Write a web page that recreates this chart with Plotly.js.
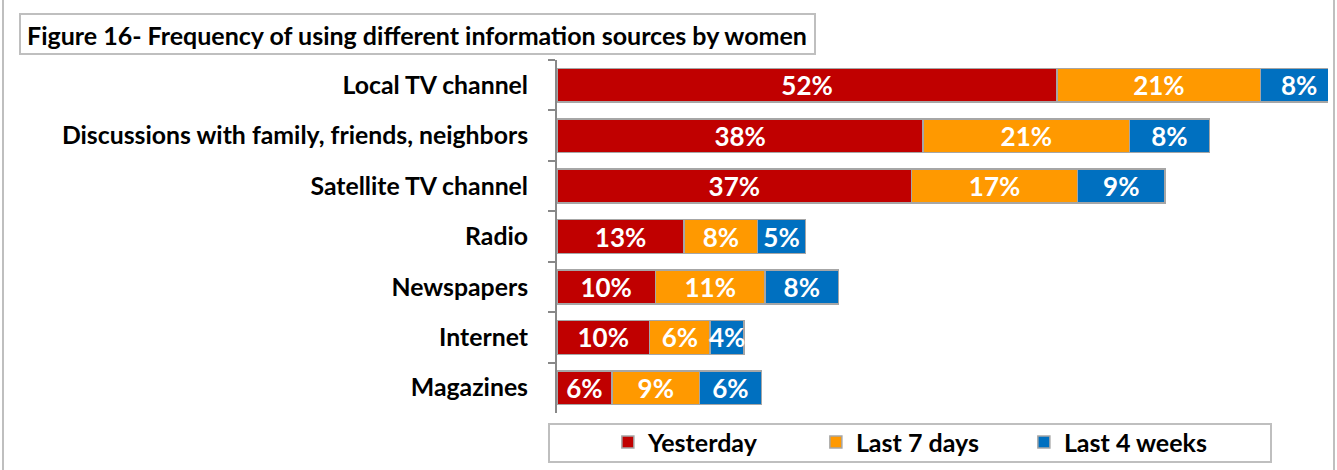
<!DOCTYPE html>
<html>
<head>
<meta charset="utf-8">
<script src="https://cdn.plot.ly/plotly-3.0.1.min.js"></script>
<style>
  html, body { margin: 0; padding: 0; background: #ffffff; }
  #chart { width: 1337px; height: 470px; }
</style>
</head>
<body>
<div id="chart"></div>
<script>
const categories = ["Local TV channel", "Discussions with family, friends, neighbors", "Satellite TV channel", "Radio", "Newspapers", "Internet", "Magazines"];
const yesterday = [51.9, 38.0, 36.8, 13.2, 10.2, 9.6, 5.7];
const last7days = [21.1, 21.4, 17.2, 7.6, 11.4, 6.3, 9.1];
const last4weeks = [8.0, 8.3, 9.1, 5.0, 7.6, 3.5, 6.4];
const seriesNames = ["Yesterday", "Last 7 days", "Last 4 weeks"];
const titleText = "Figure 16- Frequency of using different information sources by women";

const FONT = "Lato, 'Open Sans', sans-serif";
const colors = ["#C00000", "#FF9900", "#0070C0"];
const values = [yesterday, last7days, last4weeks];

const traces = values.map((v, i) => ({
  type: "bar",
  orientation: "h",
  name: seriesNames[i],
  y: categories,
  x: v,
  marker: { color: colors[i], line: { color: "#a6a6a6", width: 1.5 } },
  text: v.map(d => Math.round(d) + "%"),
  textposition: "inside",
  insidetextanchor: "middle",
  textangle: 0,
  constraintext: "none",
  textfont: { family: FONT, size: 26, color: "#ffffff", weight: 700 },
  hoverinfo: "skip"
}));

const layout = {
  width: 1337,
  height: 470,
  margin: { l: 557, r: 9, t: 60, b: 57, autoexpand: false },
  paper_bgcolor: "#ffffff",
  plot_bgcolor: "#ffffff",
  barmode: "stack",
  bargap: 0.33,
  showlegend: true,
  xaxis: {
    range: [0, 80],
    visible: false,
    fixedrange: true
  },
  yaxis: {
    autorange: "reversed",
    showline: true,
    linecolor: "#888888",
    linewidth: 2,
    ticks: "outside",
    tickson: "boundaries",
    ticklen: 7,
    tickwidth: 2,
    tickcolor: "#888888",
    ticklabelstandoff: 22,
    tickfont: { family: FONT, size: 24.8, color: "#000000", weight: 700 },
    showgrid: false,
    zeroline: false
  },
  legend: {
    orientation: "h",
    x: 0.066,
    xanchor: "left",
    y: -0.018,
    yanchor: "top",
    xref: "paper",
    entrywidth: 163,
    entrywidthmode: "pixels",
    font: { family: FONT, size: 25, color: "#000000", weight: 700 },
    bgcolor: "rgba(0,0,0,0)",
    borderwidth: 0,
    traceorder: "normal"
  },
  shapes: [
    { type: "rect", xref: "paper", yref: "paper", xsizemode: "pixel", ysizemode: "pixel",
      xanchor: 0, yanchor: 0, x0: -554, x1: 777, y0: -60, y1: 414,
      line: { color: "#bfbfbf", width: 2 }, fillcolor: "rgba(0,0,0,0)" },
    { type: "rect", xref: "paper", yref: "paper", xsizemode: "pixel", ysizemode: "pixel",
      xanchor: 0, yanchor: 0, x0: -537, x1: 258, y0: 359, y1: 399,
      line: { color: "#bfbfbf", width: 2 }, fillcolor: "#ffffff" },
    { type: "rect", xref: "paper", yref: "paper", xsizemode: "pixel", ysizemode: "pixel",
      xanchor: 0, yanchor: 0, x0: -8, x1: 714, y0: -49, y1: -11,
      line: { color: "#bfbfbf", width: 2 }, fillcolor: "rgba(0,0,0,0)" }
  ],
  annotations: [
    { text: titleText, xref: "paper", yref: "paper", x: 0, y: 1, xshift: -532, yshift: 25,
      xanchor: "left", yanchor: "middle", showarrow: false,
      font: { family: FONT, size: 25, color: "#000000", weight: 700 } }
  ]
};

Plotly.newPlot("chart", traces, layout, { displayModeBar: false, staticPlot: true });
</script>
</body>
</html>
